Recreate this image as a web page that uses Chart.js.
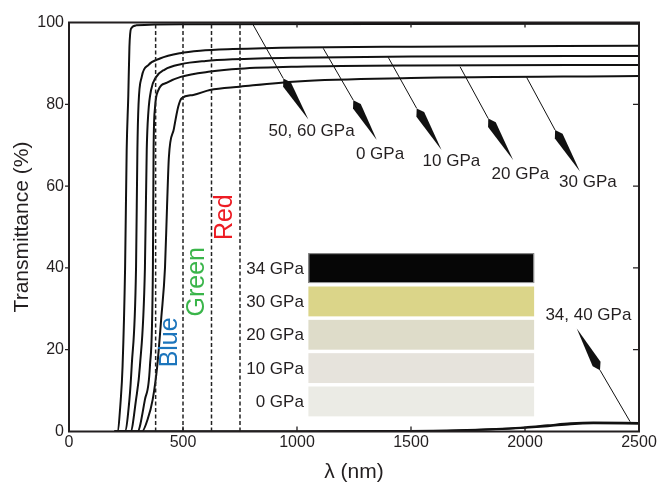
<!DOCTYPE html>
<html>
<head>
<meta charset="utf-8">
<script src="https://cdn.jsdelivr.net/npm/chart.js@4.4.0/dist/chart.umd.min.js"></script>
<style>
  html, body { margin: 0; padding: 0; background: #fff; }
</style>
</head>
<body>
<canvas id="chart" width="660" height="483"></canvas>
<script>
const FONT = '"Liberation Sans", Arial, Helvetica, sans-serif';
const INK = '#231f20';

// transmittance curves, [wavelength (nm), T (%)]
const curve50_60 = [[200,0],[212,0],[227,7.8],[235,16],[246,40],[253,69],[260,82],[265,94],[272,98.5],[295,99.3],[500,99.6],[2500,99.7]];
const curve0 = [[200,0],[245,0],[265,7.8],[275,16],[294,40],[300,69],[305,80],[319,86.7],[348,89.6],[399,91.2],[487,92.5],[575,93.1],[719,93.5],[1013,93.9],[1500,94.1],[2500,94.3]];
const curve10 = [[200,0],[270,0],[294,7.8],[311,16],[333,40],[341,69],[348,78],[360,83.5],[380,86.5],[420,88.5],[490,89.8],[600,90.6],[720,91.0],[1000,91.4],[1500,91.7],[2500,91.8]];
const curve20 = [[200,0],[300,0],[333,7.8],[355,16],[368,40],[371,69],[377,79],[390,83.2],[430,85.3],[490,86.7],[620,88.0],[750,88.7],[1000,89.2],[1500,89.5],[2500,89.6]];
const curve30 = [[200,0],[320,0],[345,3],[367,7.8],[387,16],[405,28],[421,40],[430,55],[438,67],[460,74],[479,79.4],[494,81.5],[545,82.3],[618,83.5],[750,84.3],[1000,85.6],[1500,86.4],[2500,86.9]];
const curve34 = [[200,0],[1000,0],[1400,0.1],[1700,0.3],[1900,0.7],[2000,1.0],[2100,1.5],[2200,2.0],[2300,2.2],[2500,2.1]];
const curve40 = [[200,0],[1000,0],[1400,0.1],[1700,0.2],[1900,0.6],[2000,0.9],[2100,1.3],[2200,1.8],[2300,2.0],[2500,1.9]];

// band edges (nm) marked by dashed lines
const bandLines = [380, 500, 625, 750];
const bandNames = ['Blue', 'Green', 'Red'];
const bandColors = ['#1c75bc', '#3ab54a', '#ed1c24'];

// sample colour swatches
const swatchLabels = ['34 GPa', '30 GPa', '20 GPa', '10 GPa', '0 GPa'];
const swatchColors = ['#060606', '#dbd589', '#dedcc9', '#e6e3dc', '#ebebe5'];

// arrow annotations: label, from (on curve), barb, tip, label centre  [nm, %]
const arrowLabels = ['50, 60 GPa', '0 GPa', '10 GPa', '20 GPa', '30 GPa', '34, 40 GPa'];
const arrowFrom = [[808,99.4],[1115,93.7],[1400,91.5],[1715,89.2],[2007,86.6],[2461,2.4]];
const arrowBarb = [[940,86.3],[1247,81.0],[1525,79.0],[1839,76.5],[2132,73.7],[2329,15.0]];
const arrowTip = [[1050,76.3],[1350,71.3],[1634,68.8],[1948,66.4],[2241,63.6],[2227,25.2]];
const arrowText = [[1064,73.3],[1364,67.8],[1677,66.0],[1980,62.9],[2276,60.9],[2278,28.5]];

const toXY = arr => arr.map(p => ({ x: p[0], y: p[1] }));

const curveSets = [curve50_60, curve0, curve10, curve20, curve30, curve34, curve40].map(c => ({
    data: toXY(c),
    borderColor: '#111',
    borderWidth: 2,
    pointRadius: 0,
    showLine: true,
    fill: false,
    tension: 0,
    cubicInterpolationMode: 'monotone',
}));

const dashSets = bandLines.map(v => ({
    data: [{ x: v, y: 0 }, { x: v, y: 100 }],
    borderColor: '#222',
    borderWidth: 1.5,
    borderDash: [4, 2.5],
    pointRadius: 0,
    showLine: true,
    fill: false,
}));

const decor = {
    id: 'decor',
    beforeDatasetsDraw(chart) {
        const { ctx, scales: { x, y } } = chart;
        ctx.save();
        // swatches
        swatchColors.forEach((col, i) => {
            const top = 43.6 - 8.15 * i;
            const x0 = x.getPixelForValue(1050), x1 = x.getPixelForValue(2040);
            const y0 = y.getPixelForValue(top), y1 = y.getPixelForValue(top - 7.3);
            ctx.fillStyle = col;
            ctx.fillRect(x0, y0, x1 - x0, y1 - y0);
            if (i === 0) {
                ctx.strokeStyle = '#999';
                ctx.lineWidth = 1;
                ctx.strokeRect(x0 + 0.5, y0 + 0.5, x1 - x0 - 1, y1 - y0 - 1);
            }
            ctx.fillStyle = INK;
            ctx.font = '17px ' + FONT;
            ctx.textAlign = 'right';
            ctx.textBaseline = 'middle';
            ctx.fillText(swatchLabels[i], x.getPixelForValue(1030), (y0 + y1) / 2 + 1);
        });
        ctx.restore();
    },
    afterDatasetsDraw(chart) {
        const { ctx, chartArea: a, scales: { x, y } } = chart;
        const px = p => [x.getPixelForValue(p[0]), y.getPixelForValue(p[1])];
        ctx.save();

        // Blue / Green / Red
        const bandPos = [[443, 21.8], [560, 36.6], [684, 52.4]];
        bandNames.forEach((t, i) => {
            const [bx, by] = px(bandPos[i]);
            ctx.save();
            ctx.translate(bx, by);
            ctx.rotate(-Math.PI / 2);
            ctx.fillStyle = bandColors[i];
            ctx.font = '25px ' + FONT;
            ctx.textAlign = 'center';
            ctx.textBaseline = 'middle';
            ctx.fillText(t, 0, 0);
            ctx.restore();
        });

        // arrows
        arrowLabels.forEach((lab, i) => {
            const s = px(arrowFrom[i]), b = px(arrowBarb[i]), t = px(arrowTip[i]);
            ctx.strokeStyle = '#111';
            ctx.lineWidth = 1;
            ctx.beginPath();
            ctx.moveTo(s[0], s[1]);
            ctx.lineTo(b[0], b[1]);
            ctx.stroke();
            const dx = t[0] - b[0], dy = t[1] - b[1];
            const len = Math.hypot(dx, dy);
            const ux = dx / len, uy = dy / len, nx = -uy, ny = ux;
            ctx.fillStyle = '#111';
            ctx.beginPath();
            ctx.moveTo(t[0], t[1]);
            ctx.lineTo(b[0] + ux * 7 + nx * 4.5, b[1] + uy * 7 + ny * 4.5);
            ctx.lineTo(b[0], b[1]);
            ctx.lineTo(b[0] + ux * 7 - nx * 4.5, b[1] + uy * 7 - ny * 4.5);
            ctx.closePath();
            ctx.fill();
            const [lx, ly] = px(arrowText[i]);
            ctx.fillStyle = INK;
            ctx.font = '17px ' + FONT;
            ctx.textAlign = 'center';
            ctx.textBaseline = 'middle';
            ctx.fillText(lab, lx, ly);
        });

        // frame and ticks
        ctx.strokeStyle = INK;
        ctx.lineWidth = 2;
        ctx.strokeRect(a.left, a.top, a.right - a.left, a.bottom - a.top);
        ctx.lineWidth = 1.3;
        ctx.beginPath();
        x.ticks.forEach(tk => {
            if (tk.value <= 0 || tk.value >= 2500) return;
            const p = x.getPixelForValue(tk.value);
            ctx.moveTo(p, a.bottom); ctx.lineTo(p, a.bottom - 5);
            ctx.moveTo(p, a.top); ctx.lineTo(p, a.top + 5);
        });
        y.ticks.forEach(tk => {
            if (tk.value <= 0 || tk.value >= 100) return;
            const p = y.getPixelForValue(tk.value);
            ctx.moveTo(a.left - 4, p); ctx.lineTo(a.left, p);
            ctx.moveTo(a.right, p); ctx.lineTo(a.right - 6, p);
        });
        ctx.stroke();
        ctx.restore();
    }
};

new Chart(document.getElementById('chart').getContext('2d'), {
    type: 'scatter',
    data: { datasets: [...dashSets, ...curveSets] },
    options: {
        responsive: false,
        animation: false,
        layout: { padding: { top: 22.5, right: 21, left: 0, bottom: 0 } },
        plugins: { legend: { display: false }, tooltip: { enabled: false } },
        scales: {
            x: {
                type: 'linear',
                min: 0,
                max: 2500,
                ticks: { stepSize: 500, padding: 1, color: INK, font: { family: FONT, size: 16 }, callback: v => String(v) },
                grid: { display: false, drawTicks: false },
                border: { display: false },
                title: { display: true, text: 'λ (nm)', color: INK, font: { family: FONT, size: 21 }, padding: { top: 0, bottom: -2 } },
                afterFit: s => { s.height = 51.5; },
            },
            y: {
                min: 0,
                max: 100,
                ticks: { stepSize: 20, padding: 5, color: INK, font: { family: FONT, size: 16 }, callback: v => String(v) },
                grid: { display: false, drawTicks: false },
                border: { display: false },
                title: { display: true, text: 'Transmittance (%)', color: INK, font: { family: FONT, size: 21 }, padding: { top: 10, bottom: 0 } },
                afterFit: s => { s.width = 69; },
            },
        },
    },
    plugins: [decor],
});
</script>
</body>
</html>
